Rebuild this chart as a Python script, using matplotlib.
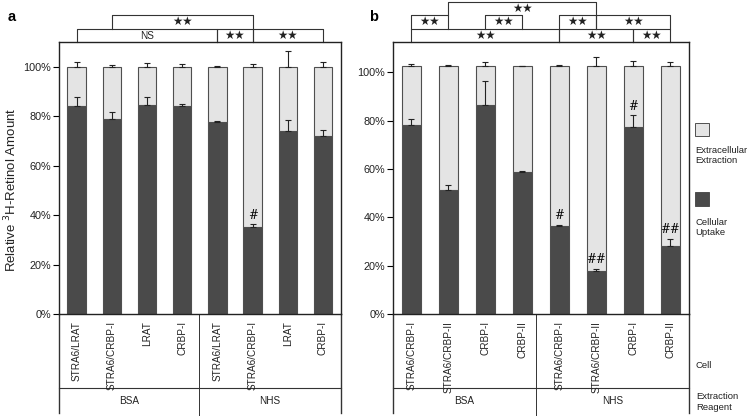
import matplotlib
matplotlib.use("Agg")
import matplotlib.pyplot as plt
from matplotlib.patches import Rectangle

plt.rcParams['font.family'] = ['Liberation Sans', 'DejaVu Sans']

# ---- data, panel a
cells_a = ["STRA6/LRAT", "STRA6/CRBP-I", "LRAT", "CRBP-I",
           "STRA6/LRAT", "STRA6/CRBP-I", "LRAT", "CRBP-I"]
uptake_a = [84.3, 78.8, 84.6, 84.3, 77.7, 35.3, 74.1, 72.2]
uptake_err_a = [3.4, 3.0, 3.3, 0.5, 0.5, 1.0, 4.4, 2.3]
total_a = [100, 100, 100, 100, 100, 100, 100, 100]
total_err_a = [2.1, 0.8, 1.5, 1.0, 0.3, 1.0, 6.5, 2.0]
marks_a = ["", "", "", "", "", "#", "", ""]
# (first bar, last bar, level, label)
brackets_a = [(0, 4, 0, "NS"), (4, 5, 0, "★★"), (5, 7, 0, "★★"),
              (1, 5, 1, "★★")]

# ---- data, panel b
cells_b = ["STRA6/CRBP-I", "STRA6/CRBP-II", "CRBP-I", "CRBP-II",
           "STRA6/CRBP-I", "STRA6/CRBP-II", "CRBP-I", "CRBP-II"]
uptake_b = [78.3, 51.4, 86.5, 58.8, 36.5, 17.8, 77.4, 28.2]
uptake_err_b = [2.4, 2.0, 10.0, 0.5, 0.5, 1.0, 5.0, 3.0]
total_b = [102.5, 102.5, 102.5, 102.5, 102.5, 102.5, 102.5, 102.5]
total_err_b = [0.7, 0.3, 1.6, 0.0, 0.3, 3.6, 2.3, 1.8]
marks_b = ["", "", "", "", "#", "##", "#", "##"]
brackets_b = [(0, 4, 0, "★★"), (4, 6, 0, "★★"), (6, 7, 0, "★★"),
              (0, 1, 1, "★★"), (2, 3, 1, "★★"), (4, 5, 1, "★★"), (5, 7, 1, "★★"),
              (1, 5, 2, "★★")]

reagents = ["BSA", "NHS"]
yticks = [0, 20, 40, 60, 80, 100]

DARK = "#4a4a4a"
LIGHT = "#e4e4e4"
EDGE = "#4f4f4f"
LEVELS = [1.0, 1.046, 1.098, 1.146]

fig = plt.figure(figsize=(7.5, 4.16), dpi=100)
ax_a = fig.add_axes([0.0787, 0.2452, 0.3753, 0.654])
ax_b = fig.add_axes([0.524, 0.2452, 0.3943, 0.654])


def draw_panel(ax, cells, uptake, uerr, total, terr, marks, brackets, ytop, split):
    x = list(range(len(cells)))
    extra = [t - u for t, u in zip(total, uptake)]
    ax.bar(x, uptake, width=0.52, color=DARK, edgecolor=EDGE, linewidth=0.8, zorder=2)
    ax.bar(x, extra, bottom=uptake, width=0.52, color=LIGHT, edgecolor=EDGE,
           linewidth=0.8, zorder=2)
    zeros = [0] * len(x)
    ax.errorbar(x, uptake, yerr=[zeros, uerr], fmt="none", ecolor="#222222",
                elinewidth=0.8, capsize=2.3, capthick=0.8, zorder=3)
    ax.errorbar(x, total, yerr=[zeros, terr], fmt="none", ecolor="#222222",
                elinewidth=0.8, capsize=2.3, capthick=0.8, zorder=3)
    for xi, u, e, m in zip(x, uptake, uerr, marks):
        if m:
            ax.annotate(m, (xi, u + e), xytext=(0, 1.5), textcoords="offset points",
                        ha="center", va="bottom", fontsize=8.5,
                        family=["DejaVu Serif"], zorder=4)

    ax.set_xlim(-0.5, len(x) - 0.5)
    ax.set_ylim(0, ytop)
    ax.set_yticks(yticks)
    ax.set_yticklabels([f"{t}%" for t in yticks], fontsize=7.8, color="#222222")
    ax.tick_params(axis="y", direction="out", length=4, width=0.8, pad=1.5)
    ax.set_xticks([])
    for s in ax.spines.values():
        s.set_linewidth(1.0)
        s.set_color("#222222")

    # brackets above the plot
    tr = ax.get_xaxis_transform()
    for a, b, lev, lab in brackets:
        y0, y1 = LEVELS[lev], LEVELS[lev + 1]
        ax.plot([a, a, b, b], [y0, y1, y1, y0], color="#333333", lw=0.8,
                transform=tr, clip_on=False)
        fs = 7.2 if lab == "NS" else 8.3
        ax.text((a + b) / 2, (y0 + y1) / 2, lab, ha="center", va="center",
                fontsize=fs, transform=tr, color="#222222")

    # category table below the plot
    n = len(x)
    ax.plot([-0.5, n - 0.5], [-0.272, -0.272], color="#333333", lw=0.8,
            transform=tr, clip_on=False)
    for xv, yb in [(-0.5, -0.364), (n - 0.5, -0.364), (split, -0.375)]:
        ax.plot([xv, xv], [0, yb], color="#333333", lw=1.0 if xv != split else 0.7,
                transform=tr, clip_on=False)
    for xi, c in zip(x, cells):
        ax.text(xi, -0.025, c, rotation=90, ha="center", va="top", fontsize=7.2,
                transform=tr, color="#222222")
    mids = [(-0.5 + split) / 2, (split + n - 0.5) / 2]
    for m, r in zip(mids, reagents):
        ax.text(m, -0.319, r, ha="center", va="center", fontsize=7.2,
                transform=tr, color="#222222")


draw_panel(ax_a, cells_a, uptake_a, uptake_err_a, total_a, total_err_a,
           marks_a, brackets_a, 110.1, 3.49)
draw_panel(ax_b, cells_b, uptake_b, uptake_err_b, total_b, total_err_b,
           marks_b, brackets_b, 112.5, 3.37)

fig.text(12 / 750, 1 - 17 / 416, "a", fontsize=10.5, fontweight="bold",
         ha="center", va="center")
fig.text(374 / 750, 1 - 17 / 416, "b", fontsize=10.5, fontweight="bold",
         ha="center", va="center")
fig.text(11 / 750, 1 - 190 / 416, "Relative $^{3}$H-Retinol Amount", rotation=90,
         ha="center", va="center", fontsize=9.5, color="#222222")

# legend
fig.add_artist(Rectangle((695 / 750, 1 - 136 / 416), 14 / 750, 13 / 416,
                         transform=fig.transFigure, facecolor=LIGHT,
                         edgecolor=EDGE, linewidth=0.7))
fig.add_artist(Rectangle((695 / 750, 1 - 206 / 416), 14 / 750, 14 / 416,
                         transform=fig.transFigure, facecolor=DARK,
                         edgecolor=EDGE, linewidth=0.7))
fig.text(695 / 750, 1 - 146 / 416, "Extracellular\nExtraction", ha="left", va="top",
         fontsize=6.8, color="#222222", linespacing=1.2)
fig.text(695 / 750, 1 - 218 / 416, "Cellular\nUptake", ha="left", va="top",
         fontsize=6.8, color="#222222", linespacing=1.2)
fig.text(696 / 750, 1 - 365 / 416, "Cell", ha="left", va="center",
         fontsize=6.8, color="#222222")
fig.text(696 / 750, 1 - 402 / 416, "Extraction\nReagent", ha="left", va="center",
         fontsize=6.8, color="#222222", linespacing=1.2)

fig.savefig("out.png", dpi=100)
